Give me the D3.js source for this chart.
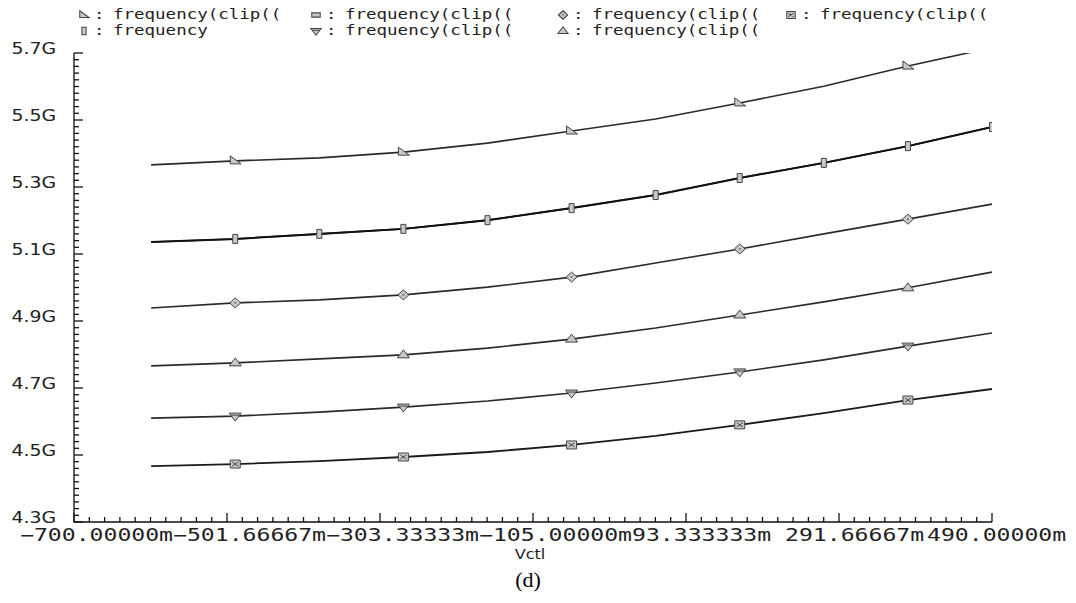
<!DOCTYPE html>
<html>
<head>
<meta charset="utf-8">
<script src="https://cdn.jsdelivr.net/npm/d3@7"></script>
<style>
  html, body { margin: 0; padding: 0; background: #fff; }
  svg { display: block; }
</style>
</head>
<body>
<svg id="chart" width="1076" height="603"></svg>
<script>
// Sweep of the control voltage (V) and the simulated oscillation frequency (GHz)
const vctl = [-0.600, -0.491, -0.382, -0.273, -0.164, -0.055, 0.054, 0.163, 0.272, 0.381, 0.490];

const freqClipA = [5.366, 5.378, 5.387, 5.404, 5.431, 5.467, 5.503, 5.551, 5.601, 5.661, 5.716];
const freqClipB = [5.136, 5.145, 5.160, 5.175, 5.201, 5.237, 5.276, 5.327, 5.372, 5.422, 5.479];
const freqClipC = [4.939, 4.954, 4.963, 4.978, 5.001, 5.031, 5.073, 5.115, 5.160, 5.204, 5.249];
const freqClipD = [4.467, 4.473, 4.482, 4.494, 4.509, 4.530, 4.557, 4.590, 4.625, 4.664, 4.697];
const freqBase  = [5.136, 5.145, 5.160, 5.175, 5.201, 5.237, 5.276, 5.327, 5.372, 5.422, 5.479];
const freqClipE = [4.610, 4.616, 4.628, 4.643, 4.661, 4.685, 4.715, 4.748, 4.784, 4.825, 4.864];
const freqClipF = [4.766, 4.775, 4.787, 4.799, 4.819, 4.846, 4.879, 4.918, 4.957, 4.999, 5.046];

const seriesNames = ["frequency(clip((", "frequency(clip((", "frequency(clip((", "frequency(clip((",
                     "frequency", "frequency(clip((", "frequency(clip(("];

// Axis ticks and their printed labels
const xTickValues = [-0.700, -0.50166667, -0.30333333, -0.105, 0.09333333, 0.29166667, 0.490];
const xTickLabels = ["\u2212700.00000m", "\u2212501.66667m", "\u2212303.33333m", "\u2212105.00000m",
                     "93.333333m", "291.66667m", "490.00000m"];
const yTickValues = [4.3, 4.5, 4.7, 4.9, 5.1, 5.3, 5.5, 5.7];
const yTickLabels = ["4.3G", "4.5G", "4.7G", "4.9G", "5.1G", "5.3G", "5.5G", "5.7G"];
const xAxisTitle = "Vctl";
const caption = "(d)";

const svg = d3.select("#chart");
const W = 1076;

const x = d3.scaleLinear().domain([-0.700, 0.490]).range([74, 992]);
const y = d3.scaleLinear().domain([4.3, 5.7]).range([522, 53]);

// Marker glyphs, centred on the origin
const shapes = {
  rtri:    "M-5,-5 L-5,3 L6,3 Z",
  rectH:   "M-5,-2.5 L5,-2.5 L5,2.5 L-5,2.5 Z",
  rectV:   "M-2.5,-4.5 L2.5,-4.5 L2.5,4.5 L-2.5,4.5 Z",
  diamond: "M0,-5 L5.5,0 L0,5 L-5.5,0 Z M-1,0 L1,0",
  squareX: "M-5,-4 L5,-4 L5,4 L-5,4 Z M-3,-2 L3,2 M-3,2 L3,-2",
  triDown: "M-6,-3 L6,-3 L0,5 Z M-4,-1 L4,-1",
  triUp:   "M0,-5 L6,3 L-6,3 Z"
};

// Plot series: drawing order, marker glyph and which sweep points carry a marker
const series = [
  { vals: freqClipA, shape: "rtri",    marks: [1, 3, 5, 7, 9],  width: 1.6, color: "#2a2a2a" },
  { vals: freqClipB, shape: "rectV",   marks: [2, 4, 6, 8, 10], width: 1.6, color: "#2a2a2a" },
  { vals: freqClipC, shape: "diamond", marks: [1, 3, 5, 7, 9],  width: 1.6, color: "#2a2a2a" },
  { vals: freqClipD, shape: "squareX", marks: [1, 3, 5, 7, 9],  width: 1.8, color: "#1a1a1a" },
  { vals: freqBase,  shape: "rectV",   marks: [1, 3, 5, 7, 9],  width: 2.0, color: "#111" },
  { vals: freqClipE, shape: "triDown", marks: [1, 3, 5, 7, 9],  width: 1.6, color: "#2a2a2a" },
  { vals: freqClipF, shape: "triUp",   marks: [1, 3, 5, 7, 9],  width: 1.6, color: "#2a2a2a" }
];
const legendShapes = ["rtri", "rectH", "diamond", "squareX", "rectV", "triDown", "triUp"];

svg.append("defs").append("clipPath").attr("id", "plotClip")
  .append("rect").attr("x", 74).attr("y", 53).attr("width", 918).attr("height", 469);

// ---- Axes ----
const axisG = svg.append("g").attr("stroke", "#111").attr("stroke-width", 1.3).attr("fill", "none");
axisG.append("path").attr("d", `M${x(-0.7)},${y(5.7)} L${x(-0.7)},${y(4.3)} L${x(0.49)},${y(4.3)}`);

// minor / major ticks pointing into the plot
const xMinor = d3.range(0, 61).map(i => -0.700 + i * (1.19 / 60));
axisG.selectAll(".xt").data(xMinor).join("line")
  .attr("x1", d => x(d)).attr("x2", d => x(d))
  .attr("y1", y(4.3)).attr("y2", (d, i) => y(4.3) - (i % 10 === 0 ? 9 : 5));
const yMinor = d3.range(0, 71).map(i => 4.3 + i * 0.02);
axisG.selectAll(".yt").data(yMinor).join("line")
  .attr("y1", d => y(d)).attr("y2", d => y(d))
  .attr("x1", x(-0.7)).attr("x2", (d, i) => x(-0.7) + (i % 10 === 0 ? 9 : 5));

const mono = "'DejaVu Sans Mono', 'Liberation Mono', monospace";
const sans = "'DejaVu Sans', 'Liberation Sans', sans-serif";

// x tick labels: wide monospace, shifted right of each tick, kept inside the page
const charW = 13.9;
svg.append("g").selectAll("text").data(xTickValues).join("text")
  .attr("transform", (d, i) => {
    const wdt = xTickLabels[i].length * charW;
    let sx = x(d) - 54;
    if (sx + wdt > W - 10) sx = W - 10 - wdt;
    return `translate(${sx},541) scale(1.36,1)`;
  })
  .attr("font-family", mono).attr("font-size", 17).attr("fill", "#222")
  .text((d, i) => xTickLabels[i]);

// y tick labels
svg.append("g").selectAll("text").data(yTickValues).join("text")
  .attr("transform", d => `translate(56,${y(d) + 1}) scale(1.18,1)`)
  .attr("text-anchor", "end")
  .attr("font-family", sans).attr("font-size", 16).attr("fill", "#222")
  .text((d, i) => yTickLabels[i]);

svg.append("text").attr("transform", "translate(530,559) scale(1.15,1)")
  .attr("text-anchor", "middle").attr("font-family", sans).attr("font-size", 14).attr("fill", "#222")
  .text(xAxisTitle);

svg.append("text").attr("x", 528).attr("y", 587).attr("text-anchor", "middle")
  .attr("font-family", "'Liberation Serif', 'Times New Roman', serif").attr("font-size", 22).attr("fill", "#000")
  .text(caption);

// ---- Curves ----
const line = d3.line().x(d => x(d[0])).y(d => y(d[1]));
const plot = svg.append("g").attr("clip-path", "url(#plotClip)");
series.forEach(s => {
  const pts = vctl.map((v, i) => [v, s.vals[i]]);
  plot.append("path").attr("d", line(pts)).attr("fill", "none")
    .attr("stroke", s.color).attr("stroke-width", s.width).attr("stroke-linejoin", "round");
});
series.forEach(s => {
  plot.append("g").selectAll("path").data(s.marks).join("path")
    .attr("transform", i => `translate(${x(vctl[i])},${y(s.vals[i])})`)
    .attr("d", shapes[s.shape])
    .attr("fill", "#c8c8c8").attr("stroke", "#444").attr("stroke-width", 1);
});

// ---- Legend ----
const legendTextX = [113, 345, 592, 820];
const legendY = [19, 35];
const leg = svg.append("g");
seriesNames.forEach((name, i) => {
  const col = i < 4 ? i : i - 4;
  const row = i < 4 ? 0 : 1;
  const tx = legendTextX[col], gy = legendY[row];
  leg.append("path").attr("transform", `translate(${tx - 29},${gy - 4}) scale(0.85)`)
    .attr("d", shapes[legendShapes[i]])
    .attr("fill", "#c8c8c8").attr("stroke", "#444").attr("stroke-width", 1.2);
  leg.append("text").attr("transform", `translate(${tx - 19},${gy}) scale(1.25,1)`)
    .attr("font-family", mono).attr("font-size", 14).attr("fill", "#222")
    .text(":");
  leg.append("text").attr("transform", `translate(${tx},${gy}) scale(1.25,1)`)
    .attr("font-family", mono).attr("font-size", 14).attr("fill", "#222")
    .text(name);
});
</script>
</body>
</html>
